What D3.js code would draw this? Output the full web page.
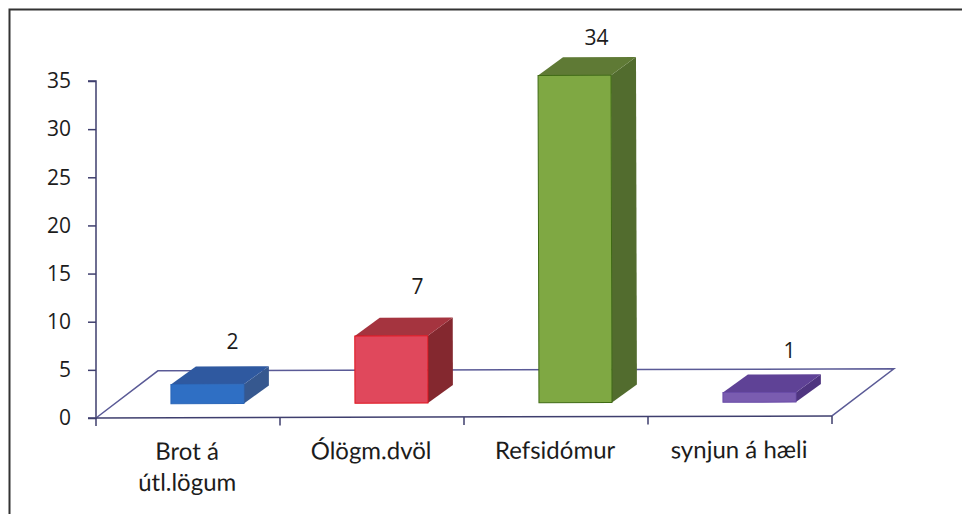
<!DOCTYPE html>
<html>
<head>
<meta charset="utf-8">
<script src="https://cdn.jsdelivr.net/npm/d3@7"></script>
<style>
  html, body { margin: 0; background: #fff; }
  svg { display: block; }
  text { font-family: Lato, "Open Sans", sans-serif; fill: #1c1c1c; }
  text.num { font-family: "Open Sans", sans-serif; }
</style>
</head>
<body>
<svg id="chart" width="962" height="514"></svg>
<script>
const categories = [["Brot á", "útl.lögum"], ["Ólögm.dvöl"], ["Refsidómur"], ["synjun á hæli"]];
const values = [2, 7, 34, 1];
const yTicks = [0, 5, 10, 15, 20, 25, 30, 35];

const frontColors = ["#2f6fc4", "#e0485c", "#7fa843", "#7a5cb0"];
const topColors = ["#2f59a0", "#a5343f", "#5f7a35", "#5f4296"];
const sideColors = ["#36588f", "#84282f", "#526c2e", "#4f3580"];
const edgeColors = ["#2a66b8", "#e0141e", "#3f6a14", "#6a4ca8"];

// the data labels don't sit at a fixed distance from the bars in the original
const labelNudge = [[0, 0], [1, -7], [-4, 4], [5, -1]];

const svg = d3.select("#chart");

const y = d3.scaleLinear().domain([0, 35]).range([418, 81]);
const x = d3.scaleBand().domain(d3.range(categories.length)).range([96, 832]);
const barW = 73;

// 3D offsets
const floorDx = 62, floorDy = -47;
const barDepthX = 25, barDepthY = -18;
const barLift = 14;

const axisColor = "#3f3f6e";

// frame
svg.append("path")
  .attr("d", "M9.5,514V9.5H962")
  .attr("fill", "none")
  .attr("stroke", "#333")
  .attr("stroke-width", 2);

// y axis
const yAxis = svg.append("g")
  .attr("transform", "translate(96,0)")
  .call(d3.axisLeft(y).tickValues(yTicks).tickSize(8).tickPadding(17));
yAxis.selectAll("path, line").attr("stroke", axisColor).attr("stroke-width", 1.5);
yAxis.selectAll("text")
  .attr("class", "num")
  .attr("font-family", null)
  .style("font-size", "21px");
yAxis.attr("font-family", null);
yAxis.select(".domain").attr("d", "M-8,81H0V418H-8");

// the scan is a little tilted, floor and bars go up to the right
const plot = svg.append("g").attr("transform", "rotate(-0.16 96 418)");

const x0 = x.range()[0], x1 = x.range()[1], y0 = y(0);

// floor
plot.append("path")
  .attr("d", d3.line()([
    [x0, y0], [x0 + floorDx, y0 + floorDy], [x1 + floorDx, y0 + floorDy], [x1, y0]
  ]))
  .attr("fill", "none")
  .attr("stroke", "#5a5a96")
  .attr("stroke-width", 1.5);
plot.append("line")
  .attr("x1", x0).attr("x2", x1).attr("y1", y0).attr("y2", y0)
  .attr("stroke", axisColor).attr("stroke-width", 1.5);

// x ticks
plot.selectAll("line.tick")
  .data(d3.range(categories.length + 1))
  .join("line")
  .attr("class", "tick")
  .attr("x1", i => x0 + i * x.step())
  .attr("x2", i => x0 + i * x.step())
  .attr("y1", y0)
  .attr("y2", y0 + 8)
  .attr("stroke", axisColor)
  .attr("stroke-width", 1.5);

// bars
const bars = plot.selectAll("g.bar")
  .data(values)
  .join("g")
  .attr("class", "bar");

const barLeft = (d, i) => x(i) + (x.bandwidth() - barW) / 2 + 19.5;
const barTop = d => y(d) - barLift;
const barBottom = y0 - barLift;

bars.append("path")
  .attr("fill", (d, i) => sideColors[i])
  .attr("d", (d, i) => {
    const r = barLeft(d, i) + barW;
    return d3.line()([
      [r, barTop(d)], [r + barDepthX, barTop(d) + barDepthY],
      [r + barDepthX, barBottom + barDepthY], [r, barBottom]
    ]);
  });

bars.append("path")
  .attr("fill", (d, i) => topColors[i])
  .attr("d", (d, i) => {
    const l = barLeft(d, i);
    return d3.line()([
      [l, barTop(d)], [l + barDepthX, barTop(d) + barDepthY],
      [l + barW + barDepthX, barTop(d) + barDepthY], [l + barW, barTop(d)]
    ]);
  });

bars.append("rect")
  .attr("x", barLeft)
  .attr("y", barTop)
  .attr("width", barW)
  .attr("height", d => barBottom - barTop(d))
  .attr("fill", (d, i) => frontColors[i])
  .attr("stroke", (d, i) => edgeColors[i])
  .attr("stroke-width", 1);

// data labels
svg.selectAll("text.value")
  .data(values)
  .join("text")
  .attr("class", "value num")
  .attr("x", (d, i) => barLeft(d, i) + barW / 2 + 25 + labelNudge[i][0])
  .attr("y", (d, i) => barTop(d) + barDepthY - 25 + labelNudge[i][1])
  .attr("dy", "0.35em")
  .attr("text-anchor", "middle")
  .style("font-size", "21px")
  .text(d => d);

// category labels
const catLabels = plot.selectAll("text.cat")
  .data(categories)
  .join("text")
  .attr("class", "cat")
  .attr("text-anchor", "middle")
  .style("font-size", "24px");

catLabels.selectAll("tspan")
  .data((d, i) => d.map(t => ({ t, i })))
  .join("tspan")
  .attr("x", d => x(d.i) + x.bandwidth() / 2 - 1)
  .attr("y", (d, j) => 460 + j * 31)
  .text(d => d.t);
</script>
</body>
</html>
